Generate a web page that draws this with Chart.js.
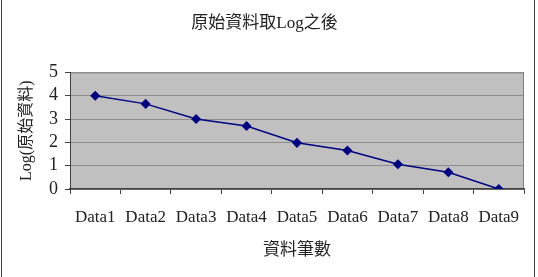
<!DOCTYPE html>
<html>
<head>
<meta charset="utf-8">
<script src="https://cdn.jsdelivr.net/npm/chart.js@4"></script>
<style>
  html, body { margin: 0; padding: 0; background: #fff; }
  #wrap { width: 538px; height: 277px; position: relative; }
</style>
</head>
<body>
<div id="wrap"><canvas id="log-chart" width="538" height="277"></canvas></div>
<script>
const categories = ['Data1', 'Data2', 'Data3', 'Data4', 'Data5', 'Data6', 'Data7', 'Data8', 'Data9'];
const logValues = [4.0, 3.65, 3.0, 2.7, 1.98, 1.65, 1.06, 0.72, 0];
const yTicks = [0, 1, 2, 3, 4, 5];

const serif = '"Liberation Serif", "Noto Sans CJK TC", serif';

// gray plot area + frame, and the two outer border lines
const plotBackground = {
    id: 'plotBackground',
    beforeDraw(chart) {
        const { ctx, chartArea: a } = chart;
        ctx.save();
        ctx.fillStyle = '#c0c0c0';
        ctx.fillRect(a.left, a.top, a.right - a.left, a.bottom - a.top);
        ctx.strokeStyle = '#808080';
        ctx.lineWidth = 1;
        ctx.beginPath();
        ctx.moveTo(a.left, a.top + 0.5);
        ctx.lineTo(a.right - 0.5, a.top + 0.5);
        ctx.lineTo(a.right - 0.5, a.bottom);
        ctx.stroke();
        ctx.strokeStyle = '#404040';
        ctx.beginPath();
        ctx.moveTo(1.5, 0);
        ctx.lineTo(1.5, chart.height);
        ctx.moveTo(534.5, 0);
        ctx.lineTo(534.5, chart.height);
        ctx.stroke();
        ctx.restore();
    }
};

new Chart(document.getElementById('log-chart'), {
    type: 'line',
    data: {
        labels: categories,
        datasets: [{
            data: logValues,
            borderColor: '#000080',
            backgroundColor: '#000080',
            borderWidth: 1.5,
            pointStyle: 'rectRot',
            pointRadius: 4,
            tension: 0
        }]
    },
    options: {
        responsive: false,
        animation: false,
        events: [],
        layout: { padding: { left: 5, right: 14, top: 0, bottom: 0 } },
        plugins: {
            legend: { display: false },
            tooltip: { enabled: false },
            title: {
                display: true,
                text: '原始資料取Log之後',
                color: '#222',
                font: { family: serif, size: 17, weight: 'normal' },
                padding: { top: 13, bottom: 39 }
            }
        },
        scales: {
            x: {
                offset: true,
                grid: {
                    offset: true,
                    drawOnChartArea: false,
                    color: '#404040',
                    tickLength: 5
                },
                border: { color: '#404040', width: 1.5 },
                ticks: {
                    color: '#222',
                    padding: 13,
                    autoSkip: false,
                    maxRotation: 0,
                    font: { family: serif, size: 17 }
                },
                title: {
                    display: true,
                    text: '資料筆數',
                    color: '#222',
                    font: { family: serif, size: 17 },
                    padding: { top: 4, bottom: 16 }
                },
                afterFit(scale) { scale.height = 88; }
            },
            y: {
                min: 0,
                max: 5,
                afterBuildTicks(scale) { scale.ticks = yTicks.map(v => ({ value: v })); },
                grid: {
                    color: '#8c8c8c',
                    tickColor: '#404040',
                    tickLength: 5
                },
                border: { color: '#404040', width: 1 },
                ticks: {
                    color: '#222',
                    padding: 7,
                    autoSkip: false,
                    font: { family: serif, size: 18 }
                },
                title: {
                    display: true,
                    text: 'Log(原始資料)',
                    color: '#222',
                    font: { family: serif, size: 16 },
                    padding: { top: 12, bottom: 0 }
                },
                afterFit(scale) { scale.width = 65; }
            }
        }
    },
    plugins: [plotBackground]
});
</script>
</body>
</html>
